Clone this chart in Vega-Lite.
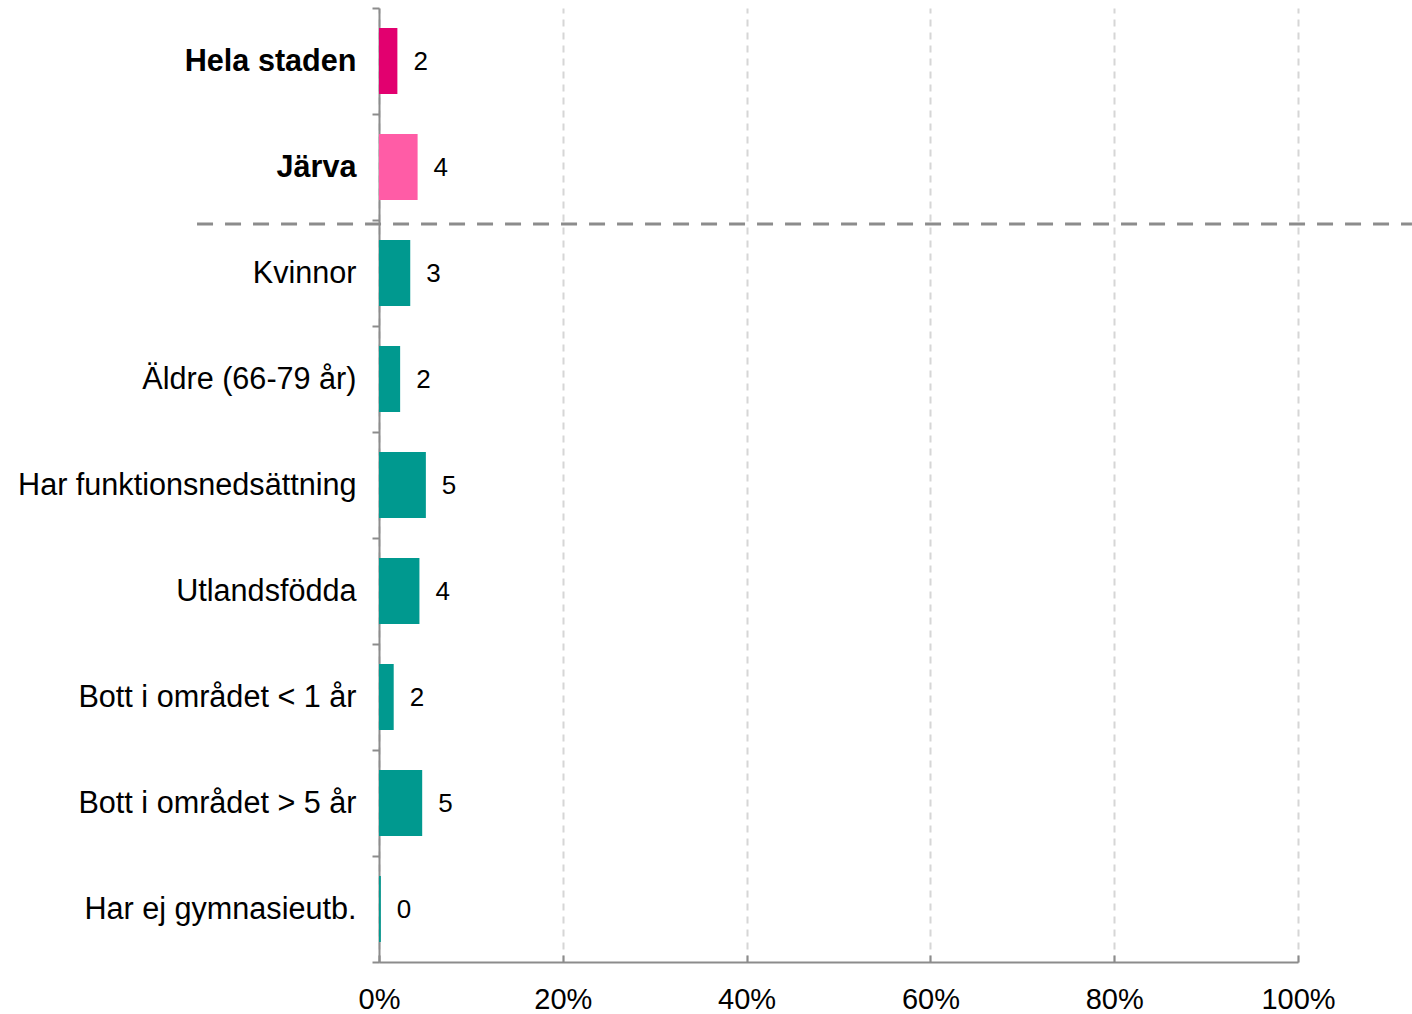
{
  "$schema": "https://vega.github.io/schema/vega-lite/v6.json",
  "width": 919,
  "height": 954,
  "padding": {"left": 379, "top": 8, "right": 114, "bottom": 52},
  "autosize": {"type": "none"},
  "background": "white",
  "config": {"view": {"stroke": null}, "font": "Liberation Sans"},
  "datasets": {
    "bars": [
      {"kategori": "Hela staden", "andel": 2.0, "etikett": "2", "grupp": "stad"},
      {"kategori": "Järva", "andel": 4.2, "etikett": "4", "grupp": "omrade"},
      {"kategori": "Kvinnor", "andel": 3.4, "etikett": "3", "grupp": "del"},
      {"kategori": "Äldre (66-79 år)", "andel": 2.3, "etikett": "2", "grupp": "del"},
      {"kategori": "Har funktionsnedsättning", "andel": 5.1, "etikett": "5", "grupp": "del"},
      {"kategori": "Utlandsfödda", "andel": 4.4, "etikett": "4", "grupp": "del"},
      {"kategori": "Bott i området < 1 år", "andel": 1.6, "etikett": "2", "grupp": "del"},
      {"kategori": "Bott i området > 5 år", "andel": 4.7, "etikett": "5", "grupp": "del"},
      {"kategori": "Har ej gymnasieutb.", "andel": 0.2, "etikett": "0", "grupp": "del"}
    ],
    "separator": [
      {"kategori": "Kvinnor", "fran": -19.8, "till": 112.4}
    ]
  },
  "layer": [
    {
      "data": {"name": "bars"},
      "mark": {"type": "bar", "size": 66},
      "encoding": {
        "y": {
          "field": "kategori", "type": "nominal",
          "sort": ["Hela staden", "Järva", "Kvinnor", "Äldre (66-79 år)", "Har funktionsnedsättning", "Utlandsfödda", "Bott i området < 1 år", "Bott i området > 5 år", "Har ej gymnasieutb."],
          "scale": {"paddingInner": 0, "paddingOuter": 0},
          "axis": {
            "title": null,
            "tickBand": "extent",
            "tickSize": 7,
            "tickWidth": 2,
            "tickColor": "#8c8c8c",
            "domainColor": "#8c8c8c",
            "domainWidth": 2,
            "labelFontSize": 30.6,
            "labelColor": "#000000",
            "labelPadding": 16,
            "labelLimit": 400,
            "labelFontWeight": {"condition": {"test": "datum.value === 'Hela staden' || datum.value === 'Järva'", "value": "bold"}, "value": "normal"}
          }
        },
        "x": {
          "field": "andel", "type": "quantitative",
          "scale": {"domain": [0, 100], "nice": false},
          "axis": {
            "title": null,
            "values": [0, 20, 40, 60, 80, 100],
            "labelExpr": "datum.value + '%'",
            "labelFontSize": 29,
            "labelFlush": false,
            "labelColor": "#000000",
            "labelPadding": 30,
            "tickSize": -7,
            "tickWidth": 2,
            "tickColor": "#8c8c8c",
            "domainColor": "#8c8c8c",
            "domainWidth": 2,
            "grid": true,
            "gridColor": "#d6d6d6",
            "gridWidth": 2,
            "gridDash": [7, 6]
          }
        },
        "color": {
          "field": "grupp", "type": "nominal",
          "scale": {"domain": ["stad", "omrade", "del"], "range": ["#E2006F", "#FF5CA6", "#00998F"]},
          "legend": null
        }
      }
    },
    {
      "data": {"name": "bars"},
      "mark": {"type": "text", "align": "left", "baseline": "middle", "dx": 16, "dy": 1, "fontSize": 26, "color": "#000000"},
      "encoding": {
        "y": {"field": "kategori", "type": "nominal", "sort": ["Hela staden", "Järva", "Kvinnor", "Äldre (66-79 år)", "Har funktionsnedsättning", "Utlandsfödda", "Bott i området < 1 år", "Bott i området > 5 år", "Har ej gymnasieutb."]},
        "x": {"field": "andel", "type": "quantitative"},
        "text": {"field": "etikett"}
      }
    },
    {
      "data": {"name": "separator"},
      "mark": {"type": "rule", "color": "#8c8c8c", "strokeWidth": 3, "strokeDash": [16, 12], "yOffset": 4},
      "encoding": {
        "y": {"field": "kategori", "type": "nominal", "bandPosition": 0, "sort": ["Hela staden", "Järva", "Kvinnor", "Äldre (66-79 år)", "Har funktionsnedsättning", "Utlandsfödda", "Bott i området < 1 år", "Bott i området > 5 år", "Har ej gymnasieutb."]},
        "x": {"field": "fran", "type": "quantitative"},
        "x2": {"field": "till"}
      }
    }
  ]
}
